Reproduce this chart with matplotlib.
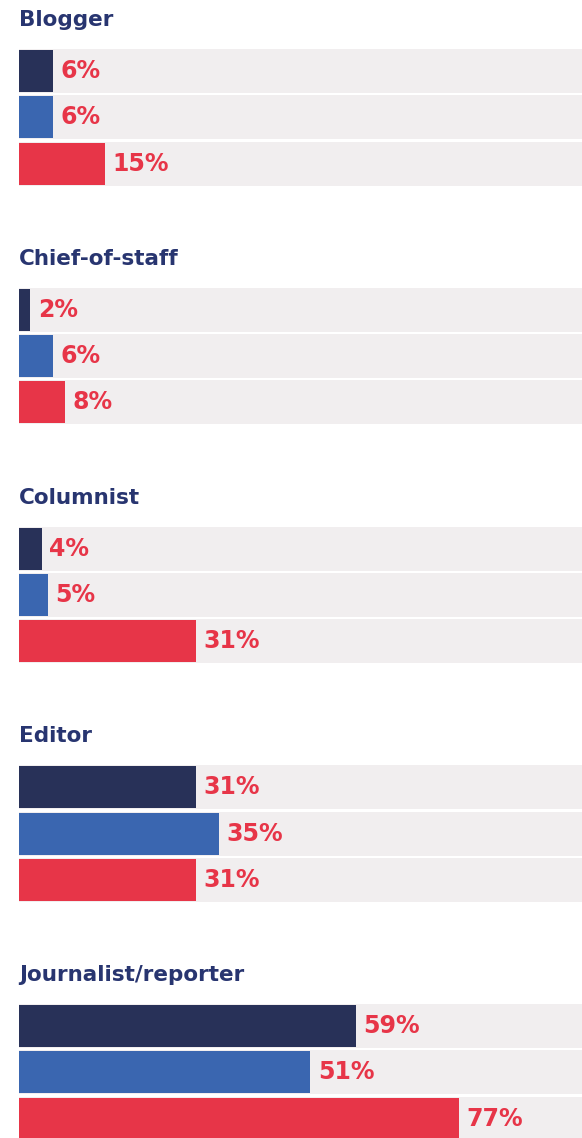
import matplotlib.pyplot as plt

# data
groups = ["Blogger", "Chief-of-staff", "Columnist", "Editor", "Journalist/reporter"]
series_a = [6, 2, 4, 31, 59]
series_b = [6, 6, 5, 35, 51]
series_c = [15, 8, 31, 31, 77]

colors = ["#283158", "#3a66b0", "#e73548"]
bg_color = "#f1eeef"
label_color = "#e73548"
title_color = "#283570"

W, H = 582, 1138
fig = plt.figure(figsize=(W / 100, H / 100), dpi=100)
# axes spans 0..100% from x=19px; 100% lands past the right edge, as in the source
left_px, full_px = 19, 571
ax = fig.add_axes([left_px / W, 0, full_px / W, 1])
ax.set_xlim(0, 100)
ax.set_ylim(H, 0)  # y in pixel units, top down
ax.axis("off")

first_row = 71.0
group_step = 238.75
row_step = 46.3

for g, name in enumerate(groups):
    vals = [series_a[g], series_b[g], series_c[g]]
    y0 = first_row + g * group_step
    ax.text(0, y0 - 45, name, fontsize=15.5, fontweight="bold",
            color=title_color, ha="left", va="baseline")
    for i, v in enumerate(vals):
        y = y0 + i * row_step
        ax.barh(y, 100, height=44, color=bg_color, zorder=1)
        ax.barh(y, v, height=42, color=colors[i], zorder=2)
        ax.annotate(f"{v}%", xy=(v, y), xytext=(5.5, 0), textcoords="offset points",
                    fontsize=17, fontweight="bold", color=label_color,
                    ha="left", va="center", zorder=3)

fig.savefig("out.png", dpi=100)
